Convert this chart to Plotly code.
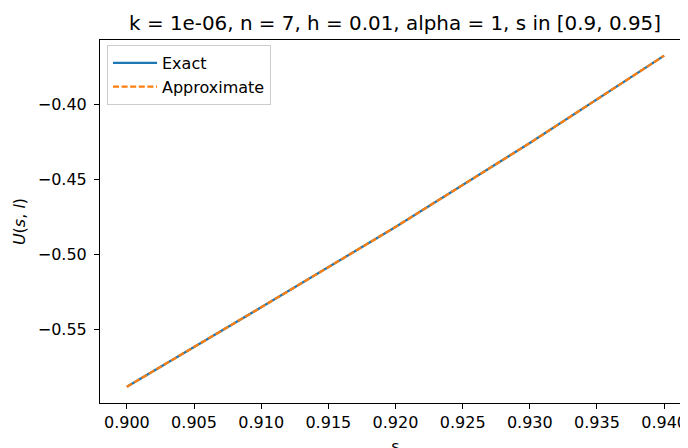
import plotly.graph_objects as go

s_values = [0.90, 0.91, 0.92, 0.93, 0.94]
u_exact = [-0.5878, -0.5350, -0.4816, -0.4258, -0.3677]
u_approx = [-0.5878, -0.5350, -0.4816, -0.4258, -0.3677]
x_ticks = [0.900, 0.905, 0.910, 0.915, 0.920, 0.925, 0.930, 0.935, 0.940]
y_ticks = [-0.55, -0.50, -0.45, -0.40]

# page body has an 8px margin, so the figure is drawn 8px in from the corner;
# the window crops its right and bottom edges like the reference image
OFF = 8
W, H = 688, 448
L, T = 100 - OFF, 40 - OFF
R = W - (691 - OFF)
B = H - (403 - OFF)
FONT = "DejaVu Sans"
TICK = 16

fig = go.Figure()
fig.add_trace(go.Scatter(x=s_values, y=u_exact, mode="lines", name="Exact",
                         line=dict(color="#1f77b4", width=2.3)))
fig.add_trace(go.Scatter(x=s_values, y=u_approx, mode="lines", name="Approximate",
                         line=dict(color="#ff7f0e", width=2.3, dash="6px,2.6px")))

fig.update_layout(
    width=W, height=H,
    margin=dict(l=L, r=R, t=T, b=B, autoexpand=False),
    paper_bgcolor="white", plot_bgcolor="white",
    font=dict(family=FONT, size=TICK, color="black"),
    title=dict(text="k = 1e-06, n = 7, h = 0.01, alpha = 1, s in [0.9, 0.95]",
               x=(395 - OFF) / W, xanchor="center", xref="container",
               y=1 - (23 - OFF) / H, yanchor="middle", yref="container",
               font=dict(family=FONT, size=19.9, color="black")),
    showlegend=True,
    legend=dict(x=(107 - 100) / (W - L - R), y=(403 - 45) / (H - T - B),
                xanchor="left", yanchor="top",
                bgcolor="rgba(255,255,255,0.8)", bordercolor="#cccccc", borderwidth=1,
                font=dict(family=FONT, size=TICK, color="black"),
                tracegroupgap=0, itemwidth=44),
    xaxis=dict(range=[0.898, 0.942], tickvals=x_ticks,
               ticktext=[f"{v:.3f}" for v in x_ticks],
               showgrid=False, zeroline=False, showline=True, linecolor="black",
               linewidth=1, mirror=True, ticks="outside", ticklen=5, tickwidth=1,
               tickcolor="black", ticklabelstandoff=0,
               title=dict(text="s", standoff=16, font=dict(family=FONT, size=TICK))),
    yaxis=dict(range=[-0.5986, -0.3573], tickvals=y_ticks,
               ticktext=["\u22120.55", "\u22120.50", "\u22120.45", "\u22120.40"],
               showgrid=False, zeroline=False, showline=True, linecolor="black",
               linewidth=1, mirror=True, ticks="outside", ticklen=5, tickwidth=1,
               tickcolor="black", ticklabelstandoff=4,
               title=dict(text="<i>U</i>(<i>s</i>, <i>l</i>)", standoff=8,
                          font=dict(family=FONT, size=TICK))),
)

fig.write_html("out.html")
